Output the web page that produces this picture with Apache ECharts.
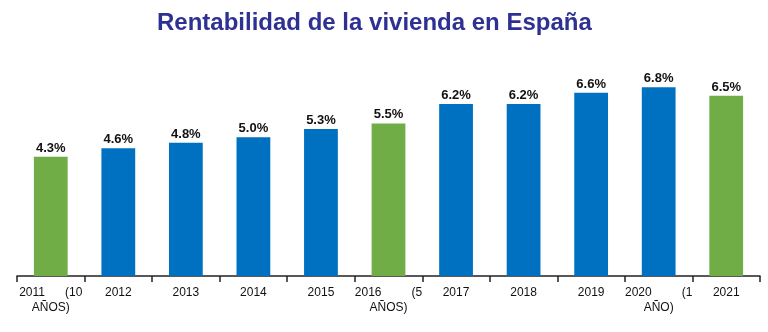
<!DOCTYPE html>
<html>
<head>
<meta charset="utf-8">
<script src="https://cdn.jsdelivr.net/npm/echarts@6/dist/echarts.min.js"></script>
<style>html,body{margin:0;padding:0;background:#fff}#c{width:768px;height:332px}</style>
</head>
<body>
<div id="c"></div>
<script>
const categories = ['2011      (10\nAÑOS)', '2012', '2013', '2014', '2015', '2016         (5\nAÑOS)', '2017', '2018', '2019', '2020         (1\nAÑO)', '2021'];
const values = [4.3, 4.6, 4.8, 5.0, 5.3, 5.5, 6.2, 6.2, 6.6, 6.8, 6.5];
const highlighted = [true, false, false, false, false, true, false, false, false, false, true];
const titleText = 'Rentabilidad de la vivienda en España';

const chart = echarts.init(document.getElementById('c'));
chart.setOption({
  animation: false,
  backgroundColor: '#fff',
  title: {
    text: titleText,
    left: 152,
    top: 6,
    textStyle: { fontFamily: 'Liberation Sans, Arial, sans-serif', fontSize: 24, fontWeight: 'bold', color: '#2E3192' }
  },
  grid: { left: 17, right: 8, top: 54, bottom: 56, containLabel: false },
  xAxis: {
    type: 'category',
    data: categories,
    axisLine: { show: true, lineStyle: { color: '#222', width: 1.5 } },
    axisTick: { show: true, length: 6, lineStyle: { color: '#222', width: 1.5 } },
    axisLabel: { interval: 0, margin: 9, fontFamily: 'Liberation Sans, Arial, sans-serif', fontSize: 12, color: '#111', lineHeight: 15 }
  },
  yAxis: {
    type: 'value', min: 0, max: 8, show: false,
    splitLine: { show: false }
  },
  series: [{
    type: 'bar',
    data: values.map((v, i) => ({ value: v, itemStyle: { color: highlighted[i] ? '#70AD47' : '#0070C0' } })),
    barWidth: '50%',
    label: {
      show: true, position: 'top', distance: 2,
      formatter: p => p.value.toFixed(1) + '%',
      fontFamily: 'Liberation Sans, Arial, sans-serif', fontSize: 13, fontWeight: 'bold', color: '#111'
    }
  }]
});
</script>
</body>
</html>
